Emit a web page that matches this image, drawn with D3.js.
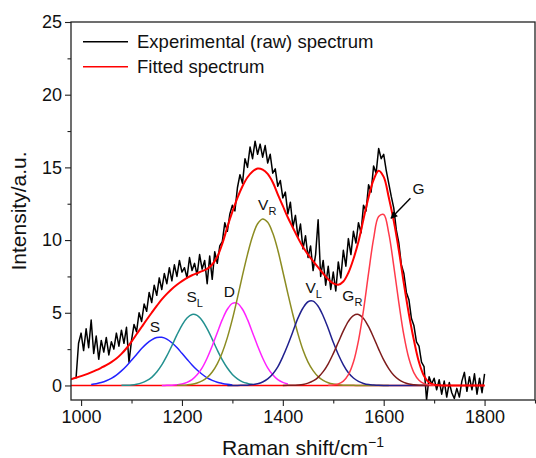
<!DOCTYPE html>
<html>
<head>
<meta charset="utf-8">
<script src="https://cdn.jsdelivr.net/npm/d3@7"></script>
<style>
  body { margin: 0; background: #fff; }
  svg { display: block; font-family: "Liberation Sans", Arial, Helvetica, sans-serif; }
</style>
</head>
<body>
<svg id="chart" width="536" height="458"></svg>
<script>
// Experimental (raw) spectrum, one value every 5 cm-1 from 990
const rawStart = 990;
const rawStep = 5;
const rawIntensity = [
  0.5, 2.9, 3.6, 2.4, 3.9, 2.6, 4.5, 2.2, 3.4, 1.8,
  3.1, 2.3, 3.3, 2.1, 3.0, 2.5, 3.6, 2.7, 3.8, 2.9,
  4.0, 1.6, 3.1, 4.2, 3.7, 5.0, 4.4, 5.6, 5.1, 6.4,
  5.7, 6.9, 6.2, 7.4, 6.6, 7.7, 7.0, 8.1, 7.2, 8.3,
  7.5, 8.6, 7.8, 8.1, 7.4, 8.8, 7.9, 8.4, 7.6, 9.0,
  8.0, 8.6, 7.0, 8.9, 7.3, 9.2, 8.4, 9.6, 9.9, 11.2,
  10.6, 11.8, 12.4, 12.0, 13.6, 14.5, 13.9, 15.6, 15.0, 16.4,
  15.6, 16.8, 15.9, 16.6, 15.7, 16.5, 15.3, 15.9, 14.6, 14.9,
  13.7, 14.1, 12.9, 13.3, 11.8, 12.6, 10.9, 11.7, 10.2, 11.1,
  9.4, 10.3, 8.8, 9.6, 7.9, 9.0, 11.4, 7.5, 8.6, 6.9,
  8.2, 6.6, 7.8, 6.5, 8.5, 7.4, 9.3, 8.2, 10.1, 9.0,
  10.6, 9.8, 11.2, 10.5, 12.4, 12.0, 13.8, 13.3, 15.1, 14.6,
  16.3, 15.6, 15.9, 14.8, 13.9, 13.0, 12.2, 10.7, 9.8, 8.3,
  7.7, 6.4, 5.9, 4.6, 4.1, 3.0, 2.7, 1.6, 1.3, -1.0,
  0.6, 0.1, 0.5, -0.3, 0.4, -0.6, 0.3, -0.8, 0.2, -0.5,
  -0.9, -0.2, -0.8, 0.3, 0.9, -0.4, 0.6, -0.3, 0.8, -0.6,
  0.5, -0.5, 0.8
];

// Fitted spectrum, every 10 cm-1 from 980
const fitStart = 980;
const fitStep = 10;
const fitIntensity = [
  0.43, 0.53, 0.64, 0.76, 0.90, 1.05, 1.22, 1.40, 1.60, 1.85,
  2.17, 2.56, 3.02, 3.52, 4.02, 4.52, 5.00, 5.47, 5.92, 6.30,
  6.64, 6.93, 7.18, 7.40, 7.58, 7.72, 7.86, 8.02, 8.32, 8.85,
  9.75, 10.90, 11.95, 12.90, 13.70, 14.32, 14.72, 14.92, 14.85, 14.55,
  13.98, 13.15, 12.35, 11.55, 10.85, 10.15, 9.52, 9.00, 8.55, 8.12,
  7.70, 7.30, 7.02, 6.93, 7.15, 7.75, 8.70, 9.90, 11.45, 12.95,
  14.15, 14.77, 14.35, 12.95, 11.30, 9.30, 7.00, 4.90, 3.10, 1.60,
  0.65, 0.20, 0.05, 0.02, 0, 0, 0, 0, 0, 0,
  0, 0, 0
];

// Fitted components, every 10 cm-1 from their own start
const peakNames = ["S", "SL", "D", "VR", "VL", "GR", "G"];
const peakStart = [1020, 1080, 1160, 1190, 1290, 1400, 1490];
const peakColors = ["#2222ff", "#22908f", "#ff22ff", "#8c8c22", "#20208e", "#7e1c1c", "#ff3a4a"];
const peakS = [0.07, 0.12, 0.20, 0.32, 0.49, 0.71, 1.00, 1.34, 1.73, 2.13, 2.54, 2.88, 3.14, 3.30, 3.31,
  3.19, 2.94, 2.61, 2.21, 1.81, 1.41, 1.06, 0.77, 0.52, 0.35, 0.22, 0.14, 0.08, 0.04];
const peakSL = [0.01, 0.02, 0.04, 0.09, 0.18, 0.33, 0.56, 0.92, 1.41, 2.03, 2.73, 3.48, 4.14, 4.64,
  4.88, 4.82, 4.47, 3.89, 3.19, 2.44, 1.76, 1.20, 0.76, 0.46, 0.25, 0.14, 0.07];
const peakD = [0.00, 0.01, 0.02, 0.05, 0.10, 0.21, 0.40, 0.73, 1.21, 1.89, 2.72, 3.63, 4.53, 5.24,
  5.65, 5.65, 5.24, 4.53, 3.63, 2.72, 1.89, 1.21, 0.73, 0.40, 0.21, 0.10];
const peakVR = [0.01, 0.02, 0.04, 0.08, 0.17, 0.31, 0.55, 0.93, 1.49, 2.27, 3.29, 4.56, 6.03, 7.57,
  9.02, 10.26, 11.12, 11.45, 11.22, 10.48, 9.32, 7.84, 6.32, 4.86, 3.55, 2.44, 1.61, 1.02, 0.61,
  0.35, 0.19, 0.10, 0.05, 0.02, 0.01, 0.01, 0, 0, 0, 0, 0, 0, 0];
const peakVL = [0, 0, 0, 0.01, 0.02, 0.06, 0.12, 0.24, 0.45, 0.79, 1.28, 1.98, 2.80, 3.71, 4.63,
  5.33, 5.76, 5.80, 5.45, 4.78, 3.92, 2.97, 2.13, 1.42, 0.87, 0.51, 0.28, 0.14, 0.06, 0.03, 0.01,
  0, 0, 0, 0, 0, 0, 0, 0, 0, 0];
const peakGR = [0, 0.01, 0.01, 0.03, 0.07, 0.16, 0.31, 0.56, 0.95, 1.49, 2.19, 2.97, 3.75, 4.41,
  4.81, 4.88, 4.61, 4.04, 3.30, 2.50, 1.76, 1.16, 0.70, 0.40, 0.21, 0.10, 0.05, 0.02, 0.01, 0];
const peakG = [0.01, 0.03, 0.11, 0.30, 0.74, 1.61, 3.09, 5.18, 7.72, 10.10, 11.62, 11.76, 10.48,
  8.21, 5.70, 3.46, 1.85, 0.87, 0.36, 0.13, 0.04, 0.01];
const peakValues = [peakS, peakSL, peakD, peakVR, peakVL, peakGR, peakG];

// Peak labels: main letter, subscript, anchor (left edge, baseline) in data units
const labelMain = ["S", "S", "D", "V", "V", "G", "G"];
const labelSub = ["", "L", "", "R", "L", "R", ""];
const labelShift = [1136, 1209, 1283, 1351, 1445, 1518, 1657];
const labelIntensity = [3.7, 5.76, 6.1, 12.07, 6.34, 5.83, 13.17];

const xTicks = [1000, 1200, 1400, 1600, 1800];
const xMinorTicks = [1100, 1300, 1500, 1700, 1900];
const yTicks = [0, 5, 10, 15, 20, 25];
const yMinorTicks = [2.5, 7.5, 12.5, 17.5, 22.5];

const margin = { top: 22, right: 1, bottom: 58, left: 71 };
const width = 536 - margin.left - margin.right;
const height = 458 - margin.top - margin.bottom;

const svg = d3.select("#chart");
const g = svg.append("g")
  .attr("transform", "translate(" + margin.left + "," + margin.top + ")");

const x = d3.scaleLinear().domain([980, 1900]).range([0, width]);
const y = d3.scaleLinear().domain([-1, 25]).range([height, 0]);

g.append("clipPath").attr("id", "plot-clip")
  .append("rect").attr("width", width).attr("height", height);

const plot = g.append("g").attr("clip-path", "url(#plot-clip)");

const toPoints = (start, step, vals) => vals.map((v, i) => [start + i * step, v]);

const smooth = d3.line()
  .x(d => x(d[0]))
  .y(d => y(d[1]))
  .curve(d3.curveCatmullRom.alpha(0.5));

const jagged = d3.line()
  .x(d => x(d[0]))
  .y(d => y(d[1]));

// raw spectrum
plot.append("path")
  .datum(toPoints(rawStart, rawStep, rawIntensity))
  .attr("d", jagged)
  .attr("fill", "none")
  .attr("stroke", "#000")
  .attr("stroke-width", 1.5)
  .attr("stroke-linejoin", "round");

// zero baseline of the fit
plot.append("path")
  .datum([[980, 0], [1800, 0]])
  .attr("d", jagged)
  .attr("fill", "none")
  .attr("stroke", "#ff0000")
  .attr("stroke-width", 1.4);

// fitted spectrum
plot.append("path")
  .datum(toPoints(fitStart, fitStep, fitIntensity))
  .attr("d", smooth)
  .attr("fill", "none")
  .attr("stroke", "#ff0000")
  .attr("stroke-width", 2);

// components
peakValues.forEach((vals, k) => {
  plot.append("path")
    .datum(toPoints(peakStart[k], 10, vals))
    .attr("d", smooth)
    .attr("fill", "none")
    .attr("stroke", peakColors[k])
    .attr("stroke-width", 1.5);
});

// peak labels
labelMain.forEach((t, k) => {
  const txt = g.append("text")
    .attr("x", x(labelShift[k]))
    .attr("y", y(labelIntensity[k]))
    .attr("font-size", 15.5)
    .attr("fill", "#111")
    .text(t);
  if (labelSub[k]) {
    txt.append("tspan")
      .attr("dy", 5)
      .attr("font-size", 11)
      .text(labelSub[k]);
  }
});

// arrow pointing at the G band
svg.append("defs").append("marker")
  .attr("id", "arrow-head")
  .attr("viewBox", "0 0 10 10")
  .attr("refX", 9).attr("refY", 5)
  .attr("markerUnits", "userSpaceOnUse")
  .attr("markerWidth", 8).attr("markerHeight", 7)
  .attr("orient", "auto")
  .append("path").attr("d", "M0,0 L10,5 L0,10 z").attr("fill", "#000");

g.append("line")
  .attr("x1", x(1653)).attr("y1", y(12.87))
  .attr("x2", x(1614.5)).attr("y2", y(11.5))
  .attr("stroke", "#000")
  .attr("stroke-width", 1.4)
  .attr("marker-end", "url(#arrow-head)");

// axes
const axisColor = "#222";
function styleAxis(sel) {
  sel.select(".domain").remove();
  sel.selectAll(".tick line").attr("stroke", axisColor).attr("stroke-width", 1.1);
  sel.selectAll(".tick text").attr("fill", "#111").attr("font-size", 18)
    .attr("font-family", "'Liberation Sans', Arial, sans-serif");
}

g.append("g").attr("transform", "translate(0," + height + ")")
  .call(d3.axisBottom(x).tickValues(xTicks).tickSize(6).tickPadding(4).tickFormat(d3.format("d")))
  .call(styleAxis);
g.append("g").attr("transform", "translate(0," + height + ")")
  .call(d3.axisBottom(x).tickValues(xMinorTicks).tickSize(3.5).tickFormat(""))
  .call(styleAxis);
g.append("g")
  .call(d3.axisLeft(y).tickValues(yTicks).tickSize(6).tickPadding(3))
  .call(styleAxis);
g.append("g")
  .call(d3.axisLeft(y).tickValues(yMinorTicks).tickSize(3.5).tickFormat(""))
  .call(styleAxis);

// frame
g.append("rect")
  .attr("width", width).attr("height", height)
  .attr("fill", "none")
  .attr("stroke", axisColor)
  .attr("stroke-width", 1.3);

// axis titles
const xTitle = svg.append("text")
  .attr("x", margin.left + width / 2)
  .attr("y", 455)
  .attr("text-anchor", "middle")
  .attr("font-size", 21)
  .attr("fill", "#111")
  .text("Raman shift/cm");
xTitle.append("tspan").attr("dy", -8).attr("font-size", 14).text("\u22121");

svg.append("text")
  .attr("transform", "translate(26," + (margin.top + height / 2) + ") rotate(-90)")
  .attr("text-anchor", "middle")
  .attr("font-size", 21)
  .attr("fill", "#111")
  .text("Intensity/a.u.");

// legend
const legendItems = ["Experimental (raw) spectrum", "Fitted spectrum"];
const legendColors = ["#000", "#ff0000"];
legendItems.forEach((name, i) => {
  const ly = 41.7 + i * 25;
  svg.append("line")
    .attr("x1", 83).attr("x2", 128)
    .attr("y1", ly).attr("y2", ly)
    .attr("stroke", legendColors[i])
    .attr("stroke-width", 1.4);
  svg.append("text")
    .attr("x", 137).attr("y", ly + 6.6)
    .attr("font-size", 18.5)
    .attr("fill", "#111")
    .text(name);
});
</script>
</body>
</html>
